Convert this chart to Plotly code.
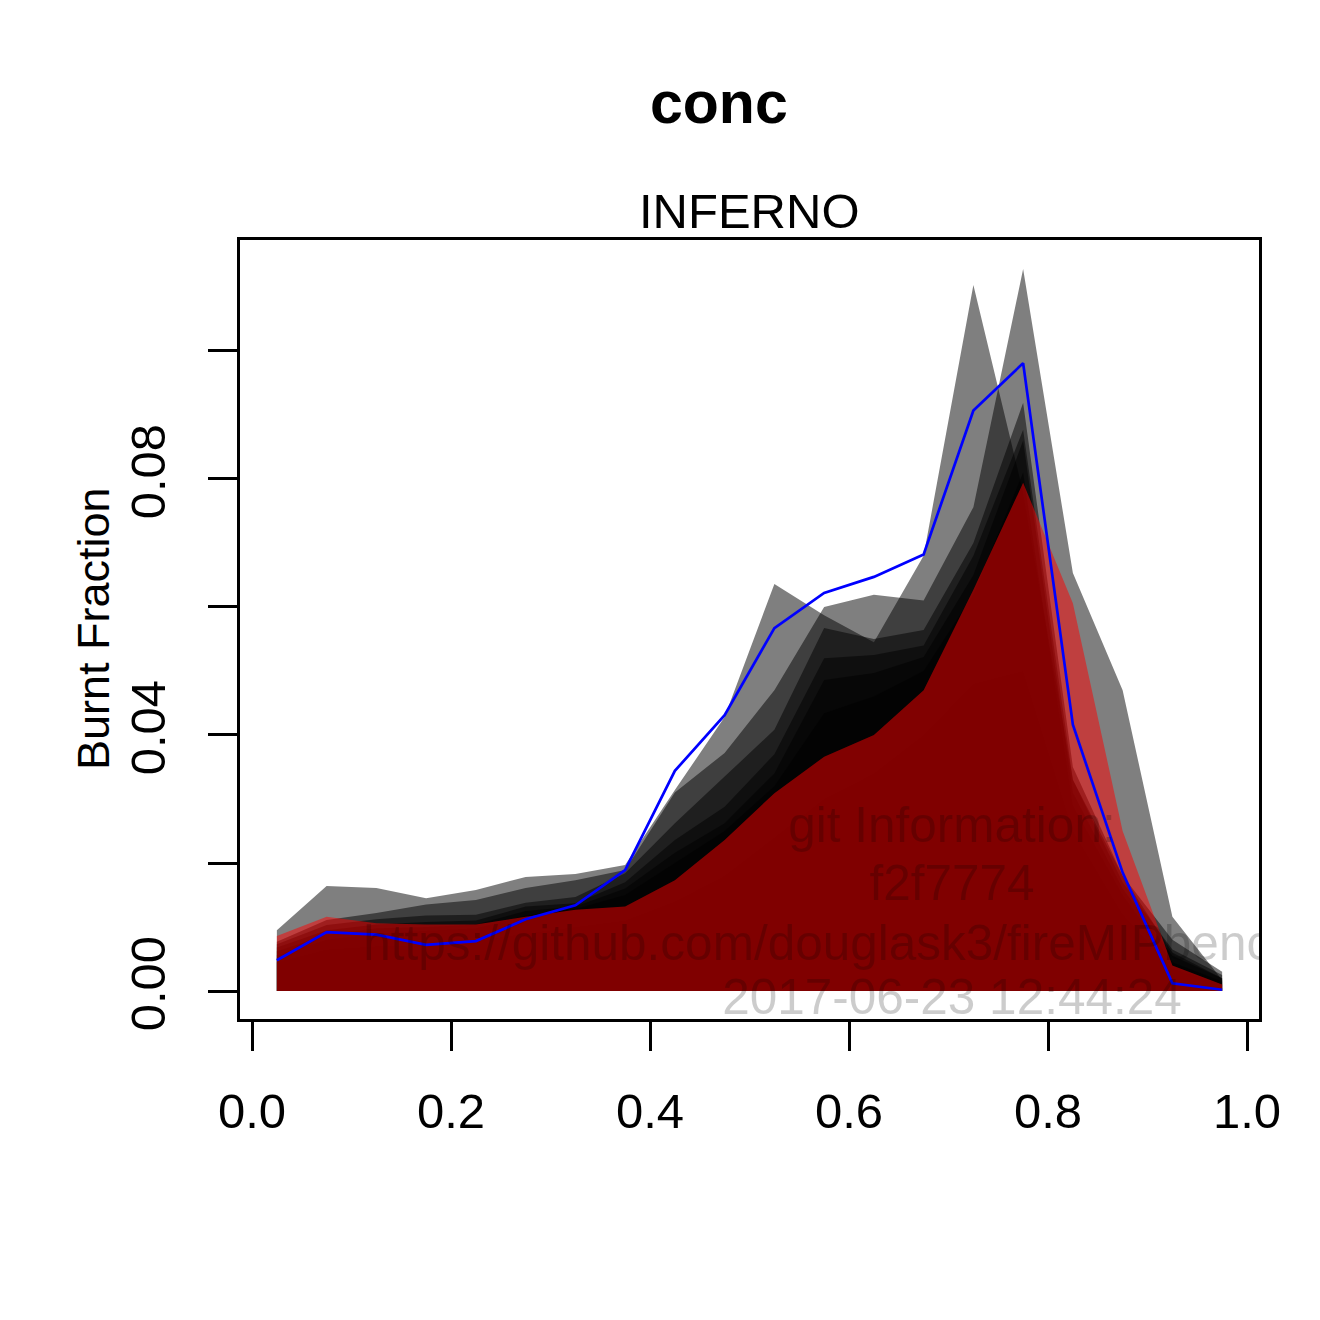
import plotly.graph_objects as go

# ---------------- data ----------------
conc_bins = [0.025, 0.075, 0.125, 0.175, 0.225, 0.275, 0.325, 0.375, 0.425, 0.475,
             0.525, 0.575, 0.625, 0.675, 0.725, 0.775, 0.825, 0.875, 0.925, 0.975]

# model ensemble members (grey translucent polygons)
member_1 = [0.0095, 0.0164, 0.0161, 0.0145, 0.0158, 0.0178, 0.0183, 0.0197, 0.0314, 0.0428,
            0.0636, 0.0587, 0.0545, 0.0680, 0.1103, 0.0780, 0.0330, 0.0180, 0.0060, 0.0020]
member_2 = [0.0077, 0.0111, 0.0122, 0.0135, 0.0142, 0.0161, 0.0173, 0.0189, 0.0310, 0.0372,
            0.0470, 0.0600, 0.0619, 0.0610, 0.0756, 0.1128, 0.0653, 0.0470, 0.0116, 0.0017]
member_3 = [0.0073, 0.0103, 0.0112, 0.0118, 0.0119, 0.0138, 0.0147, 0.0184, 0.0262, 0.0335,
            0.0408, 0.0567, 0.0550, 0.0564, 0.0700, 0.0919, 0.0350, 0.0180, 0.0080, 0.0030]
member_4 = [0.0068, 0.0095, 0.0104, 0.0108, 0.0110, 0.0132, 0.0137, 0.0170, 0.0236, 0.0288,
            0.0370, 0.0520, 0.0525, 0.0540, 0.0680, 0.0877, 0.0330, 0.0170, 0.0065, 0.0025]
member_5 = [0.0062, 0.0088, 0.0098, 0.0100, 0.0104, 0.0125, 0.0132, 0.0160, 0.0216, 0.0262,
            0.0340, 0.0486, 0.0497, 0.0522, 0.0650, 0.0860, 0.0310, 0.0160, 0.0055, 0.0020]
member_6 = [0.0056, 0.0080, 0.0090, 0.0094, 0.0098, 0.0118, 0.0128, 0.0150, 0.0200, 0.0250,
            0.0320, 0.0434, 0.0460, 0.0500, 0.0620, 0.0810, 0.0290, 0.0150, 0.0045, 0.0015]
member_7 = [0.0045, 0.0065, 0.0070, 0.0072, 0.0078, 0.0090, 0.0100, 0.0110, 0.0140, 0.0180,
            0.0240, 0.0300, 0.0340, 0.0400, 0.0480, 0.0500, 0.0250, 0.0120, 0.0035, 0.0010]

# red translucent polygon
red_band = [0.0086, 0.0116, 0.0106, 0.0104, 0.0104, 0.0116, 0.0127, 0.0132, 0.0173, 0.0236,
            0.0309, 0.0366, 0.0400, 0.0470, 0.0627, 0.0794, 0.0606, 0.0250, 0.0040, 0.0010]

# blue line
blue_line = [0.0048, 0.0092, 0.0088, 0.0072, 0.0078, 0.0112, 0.0134, 0.0189, 0.0344, 0.0431,
             0.0567, 0.0622, 0.0647, 0.0682, 0.0907, 0.0981, 0.0416, 0.0185, 0.0012, 0.0002]

x_tick_vals = [0.0, 0.2, 0.4, 0.6, 0.8, 1.0]
x_tick_text = ["0.0", "0.2", "0.4", "0.6", "0.8", "1.0"]
y_tick_vals = [0.00, 0.02, 0.04, 0.06, 0.08, 0.10]
y_tick_text = ["0.00", "", "0.04", "", "0.08", ""]

title_text = "conc"
subtitle_text = "INFERNO"
y_title = "Burnt Fraction"
git_lines = ["git Information:", "f2f7774",
             "https://github.com/douglask3/fireMIPbenchmarking.git", "2017-06-23 12:44:24"]
git_line_y = [0.0252, 0.0161, 0.0068, -0.0017]
git_x = 0.7035

# ---------------- figure ----------------
FONT = "Liberation Sans, Arial, sans-serif"
OFF = 8                      # page body margin of the html page
W = H = 1320 - OFF
BOX_L, BOX_R, BOX_T, BOX_B = 240, 1259, 240, 1019   # plot box in screen pixels
L = BOX_L - OFF
T = BOX_T - OFF
R = W - (BOX_R - OFF)
B = H - (BOX_B - OFF)
fig = go.Figure()

def polygon(vals, color):
    xs = conc_bins + conc_bins[::-1]
    ys = vals + [0.0] * len(vals)
    fig.add_trace(go.Scatter(x=xs, y=ys, fill="toself", fillcolor=color,
                             mode="none", hoverinfo="skip", showlegend=False))

for m in [member_1, member_2, member_3, member_4, member_5, member_6, member_7]:
    polygon(m, "rgba(0,0,0,0.5)")
polygon(red_band, "rgba(255,0,0,0.5)")

fig.add_trace(go.Scatter(x=conc_bins, y=blue_line, mode="lines",
                         line=dict(color="#0000FF", width=2.7), showlegend=False))

fig.add_trace(go.Scatter(x=[git_x] * len(git_lines), y=git_line_y, text=git_lines,
                         mode="text", textposition="middle center", cliponaxis=True,
                         textfont=dict(family=FONT, size=49.5, color="rgba(0,0,0,0.2)"),
                         showlegend=False, hoverinfo="skip"))

px_w = BOX_R - BOX_L
px_h = BOX_B - BOX_T
def px2paper_x(px):
    return (px - BOX_L) / px_w
def px2paper_y(py):
    return (BOX_B - py) / px_h

fig.update_layout(
    width=W, height=H,
    margin=dict(l=L, r=R, t=T, b=B, pad=0),
    paper_bgcolor="white", plot_bgcolor="white",
    font=dict(family=FONT, color="black"),
    xaxis=dict(range=[-0.01206, 1.01206], tickvals=x_tick_vals, ticktext=x_tick_text,
               ticks="outside", ticklen=29, tickwidth=2.7, tickcolor="black",
               showline=True, linewidth=2.7, linecolor="black", mirror=True,
               showgrid=False, zeroline=False, tickfont=dict(family=FONT, size=49),
               ticklabelstandoff=18),
    yaxis=dict(range=[-0.004375, 0.11734], tickvals=y_tick_vals, ticktext=y_tick_text,
               ticks="outside", ticklen=29, tickwidth=2.7, tickcolor="black",
               showline=True, linewidth=2.7, linecolor="black", mirror=True,
               showgrid=False, zeroline=False, tickfont=dict(family=FONT, size=49),
               tickangle=-90, ticklabelstandoff=24),
    annotations=[
        dict(text="<b>" + title_text + "</b>", xref="paper", yref="paper",
             x=px2paper_x(719), y=px2paper_y(103), xanchor="center", yanchor="middle",
             showarrow=False, font=dict(family=FONT, size=59, color="black")),
        dict(text=subtitle_text, xref="paper", yref="paper",
             x=px2paper_x(749), y=px2paper_y(211), xanchor="center", yanchor="middle",
             showarrow=False, font=dict(family=FONT, size=49, color="black")),
        dict(text=y_title, xref="paper", yref="paper", textangle=-90,
             x=px2paper_x(93), y=px2paper_y(629), xanchor="center", yanchor="middle",
             showarrow=False, font=dict(family=FONT, size=45, color="black")),
    ],
)

fig.write_html("out.html")
